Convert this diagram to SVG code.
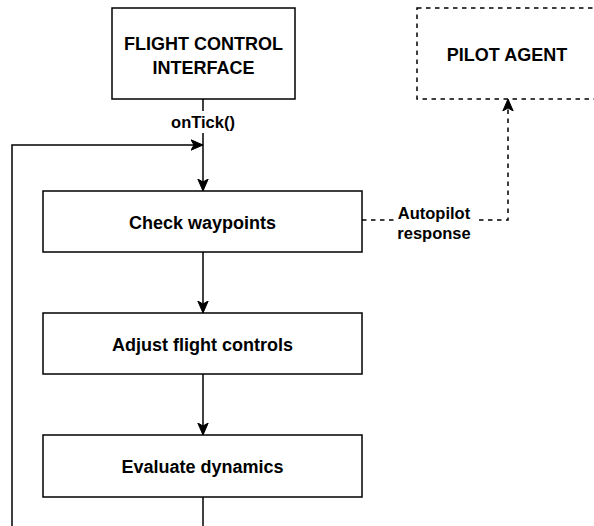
<svg xmlns="http://www.w3.org/2000/svg" width="594" height="526" viewBox="0 0 594 526">
<style>
.box{fill:#fff;stroke:#000;stroke-width:1.5}
.dbox{fill:#fff;stroke:#000;stroke-width:1.5;stroke-dasharray:4.5 4.5}
.lbl{font-family:"Liberation Sans",Arial,sans-serif;font-weight:bold;font-size:18px;fill:#000;text-anchor:middle}
.elbl{font-family:"Liberation Sans",Arial,sans-serif;font-weight:bold;font-size:16.5px;fill:#000;text-anchor:middle}
.ln{fill:none;stroke:#000;stroke-width:1.5}
.dln{fill:none;stroke:#000;stroke-width:1.5;stroke-dasharray:4.5 4.5}
</style>
<defs>
<marker id="arr" markerUnits="userSpaceOnUse" markerWidth="12" markerHeight="12" viewBox="0 0 12 12" refX="12" refY="6" orient="auto">
<path d="M0,0.8 L12,6 L0,11.2 L3,6 Z" fill="#000" stroke="#000" stroke-width="1"/>
</marker>
</defs>
<rect width="594" height="526" fill="#fff"/>
<g id="connectors">
<path class="ln" d="M203,99 V191" marker-end="url(#arr)"/>
<path class="ln" d="M12,526 V145 H203" marker-end="url(#arr)"/>
<path class="ln" d="M203,252 V313" marker-end="url(#arr)"/>
<path class="ln" d="M203,374 V435" marker-end="url(#arr)"/>
<path class="ln" d="M203,497 V526"/>
<path class="dln" d="M362,220 H508 V99" marker-end="url(#arr)"/>
<g id="label-ontick">
<rect x="168" y="111" width="70" height="22" fill="#fff"/>
<text class="elbl" x="203" y="128">onTick()</text>
</g>
<g id="label-autopilot">
<rect x="394" y="203" width="82" height="42" fill="#fff"/>
<text class="elbl" x="434" y="219">Autopilot</text>
<text class="elbl" x="434" y="239">response</text>
</g>
</g>
<g id="flight-control-interface">
<rect class="box" x="112" y="8" width="183" height="91"/>
<text class="lbl" x="203.5" y="50">FLIGHT CONTROL</text>
<text class="lbl" x="203.5" y="74">INTERFACE</text>
</g>
<g id="pilot-agent">
<rect class="dbox" x="417" y="8" width="180" height="91"/>
<text class="lbl" x="507" y="61">PILOT AGENT</text>
</g>
<g id="check-waypoints">
<rect class="box" x="43" y="191" width="319" height="61"/>
<text class="lbl" x="202.5" y="228.5">Check waypoints</text>
</g>
<g id="adjust-flight-controls">
<rect class="box" x="43" y="313" width="319" height="61"/>
<text class="lbl" x="202.5" y="351">Adjust flight controls</text>
</g>
<g id="evaluate-dynamics">
<rect class="box" x="43" y="435" width="319" height="62"/>
<text class="lbl" x="202.5" y="473">Evaluate dynamics</text>
</g>
</svg>
